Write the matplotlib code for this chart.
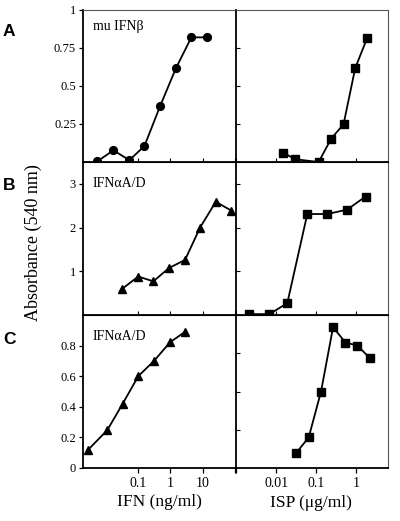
import matplotlib
matplotlib.use("Agg")
import matplotlib.pyplot as plt

plt.rcParams['font.family'] = ['Liberation Serif', 'DejaVu Serif']

# Panel A
a_ifn_x = [0.0056, 0.0174, 0.054, 0.158, 0.48, 1.48, 4.47, 13.8]
a_ifn_y = [0.005, 0.077, 0.012, 0.105, 0.366, 0.616, 0.82, 0.82]
a_isp_x = [0.015, 0.030, 0.115, 0.237, 0.48, 0.94, 1.88]
a_isp_y = [0.062, 0.018, 0.0, 0.154, 0.248, 0.618, 0.818]
# Panel B
b_ifn_x = [0.032, 0.102, 0.298, 0.91, 2.85, 8.3, 25.4, 76]
b_ifn_y = [0.595, 0.88, 0.77, 1.075, 1.26, 2.0, 2.59, 2.39]
b_isp_x = [0.0021, 0.0068, 0.019, 0.06, 0.19, 0.59, 1.7]
b_isp_y = [0.02, 0.02, 0.27, 2.31, 2.31, 2.41, 2.71]
# Panel C
c_ifn_x = [0.0029, 0.0112, 0.0336, 0.102, 0.313, 0.98, 2.85]
c_ifn_y = [0.12, 0.247, 0.42, 0.60, 0.70, 0.822, 0.89]
c_isp_x = [0.0316, 0.065, 0.132, 0.263, 0.537, 1.07, 2.14]
c_isp_y = [0.098, 0.2, 0.50, 0.92, 0.82, 0.80, 0.72]

panel_letters = ['A', 'B', 'C']
panel_names = ['mu IFNβ', 'IFNαA/D', 'IFNαA/D']
left_yticks = [[0.25, 0.5, 0.75, 1], [1, 2, 3], [0, 0.2, 0.4, 0.6, 0.8]]
left_yticklabels = [['0.25', '0.5', '0.75', '1'], ['1', '2', '3'], ['0', '0.2', '0.4', '0.6', '0.8']]
right_yticks = [[0.25, 0.5, 0.75], [1, 2, 3], [0.25, 0.5, 0.75]]
ylims = [(0, 1), (0, 3.5), (0, 1)]
ifn_xticks = [0.1, 1, 10, 100]
ifn_xticklabels = ['0.1', '1', '10', '']
isp_xticks = [0.001, 0.01, 0.1, 1]
isp_xticklabels = ['', '0.01', '0.1', '1']

W, H = 400, 521
fig = plt.figure(figsize=(4.0, 5.21), dpi=100)

xl0, xm, xr1 = 83 / W, 236 / W, 388 / W
row_px = [(10, 162), (162, 315), (315, 468)]

ifn_data = [(a_ifn_x, a_ifn_y, 'o'), (b_ifn_x, b_ifn_y, '^'), (c_ifn_x, c_ifn_y, '^')]
isp_data = [(a_isp_x, a_isp_y), (b_isp_x, b_isp_y), (c_isp_x, c_isp_y)]

for i in range(3):
    top, bot = row_px[i]
    y0 = 1 - bot / H
    h = (bot - top) / H
    axl = fig.add_axes([xl0, y0, xm - xl0, h])
    axr = fig.add_axes([xm, y0, xr1 - xm, h])

    x, y, m = ifn_data[i]
    axl.plot(x, y, color='black', lw=1.3, marker=m, ms=6 if m == '^' else 5.6,
             mfc='black', mec='black')
    xs, ys = isp_data[i]
    axr.plot(xs, ys, color='black', lw=1.3, marker='s', ms=5.4, mfc='black', mec='black')

    for ax in (axl, axr):
        ax.set_xscale('log')
        ax.set_ylim(*ylims[i])
    axl.set_xlim(10 ** -2.70, 10 ** 2.03)
    axr.set_xlim(10 ** -3.0, 10 ** 0.79)

    axl.set_xticks(ifn_xticks)
    axr.set_xticks(isp_xticks)
    axl.minorticks_off()
    axr.minorticks_off()
    if i == 2:
        axl.set_xticklabels(ifn_xticklabels)
        axr.set_xticklabels(isp_xticklabels)
        for ax in (axl, axr):
            ax.tick_params(axis='x', direction='out', length=3.5, width=0.9,
                           labelsize=10, pad=3)
    else:
        axl.set_xticklabels([''] * len(ifn_xticks))
        axr.set_xticklabels([''] * len(isp_xticks))
        for ax in (axl, axr):
            ax.tick_params(axis='x', direction='in', length=3, width=0.8)

    axl.set_yticks(left_yticks[i])
    axl.set_yticklabels(left_yticklabels[i])
    axl.tick_params(axis='y', direction='out', length=3, width=0.9, labelsize=9, pad=2)
    axr.set_yticks(right_yticks[i])
    axr.set_yticklabels([''] * len(right_yticks[i]))
    axr.tick_params(axis='y', direction='in', length=3, width=0.8)

    axl.spines['right'].set_visible(False)
    for ax in (axl, axr):
        ax.spines['left'].set_linewidth(1.3)
        ax.spines['bottom'].set_linewidth(1.3)
        ax.spines['top'].set_linewidth(0.8)
        ax.spines['right'].set_linewidth(0.8)
        ax.spines['top'].set_color('#555555' if i == 0 else 'black')
        ax.spines['right'].set_color('#555555')
        ax.patch.set_alpha(0)

    base = [0.868, 0.837, 0.837][i]
    axl.text(0.065, base, panel_names[i], transform=axl.transAxes,
             fontsize=10, ha='left', va='baseline')

    fig.text(9 / W, 1 - [32, 185, 339][i] / H, panel_letters[i],
             fontsize=12.5, fontweight='bold', family=['Liberation Sans', 'DejaVu Sans'],
             ha='center', va='center')

fig.text(33 / W, 1 - 243 / H, 'Absorbance (540 nm)', rotation=90,
         fontsize=13, ha='center', va='center')
fig.text(159.5 / W, 1 - 502 / H, 'IFN (ng/ml)', fontsize=12.5, ha='center', va='center')
fig.text(311 / W, 1 - 503 / H, 'ISP (μg/ml)', fontsize=12.5, ha='center', va='center')

fig.savefig('out.png', dpi=100)
